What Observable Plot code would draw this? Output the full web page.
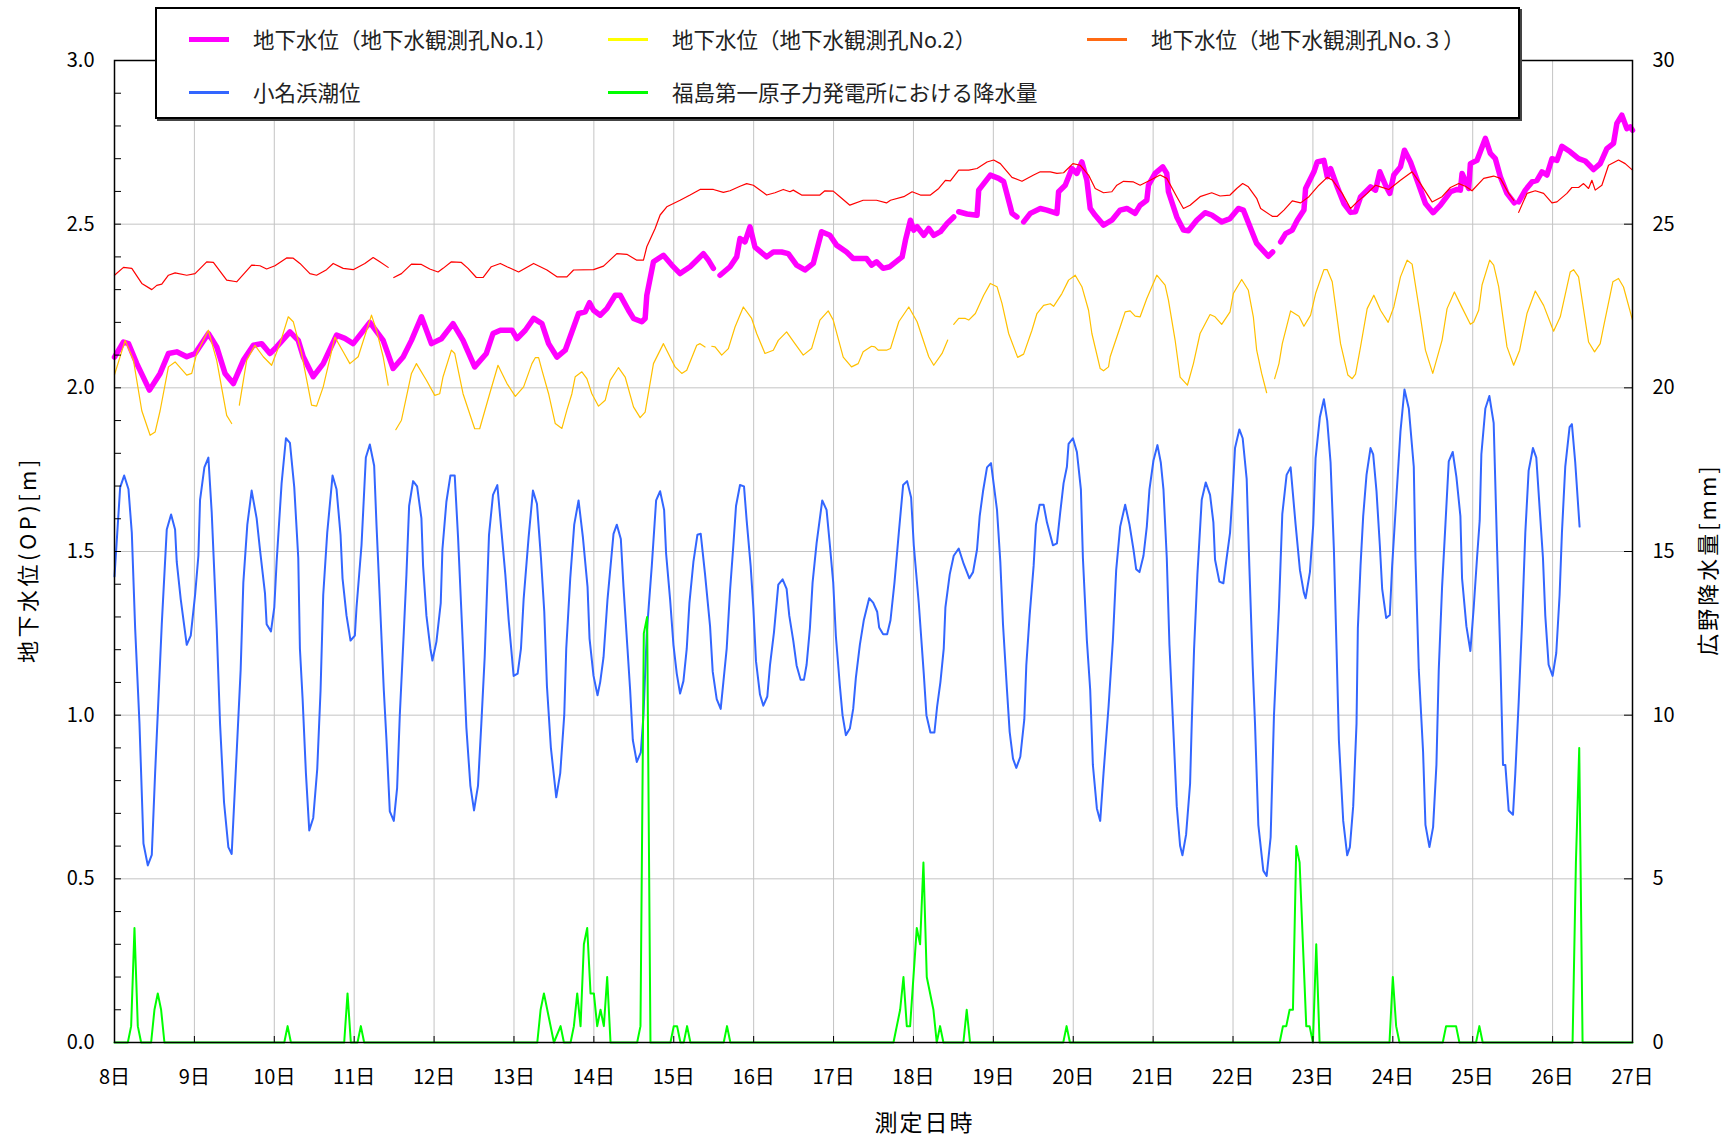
<!DOCTYPE html>
<html>
<head>
<meta charset="utf-8">
<script src="https://cdn.jsdelivr.net/npm/d3@7"></script>
<script src="https://cdn.jsdelivr.net/npm/@observablehq/plot@0.6"></script>
<style>
  body { margin: 0; background: #fff; font-family: "Noto Sans CJK JP", "Noto Sans", sans-serif; }
  #wrap { position: relative; width: 1733px; height: 1140px; overflow: hidden; }
  #legend { position: absolute; left: 155px; top: 7px; width: 1361px; height: 108px; border: 2px solid #000;
            background: #fff; box-shadow: 2px 2px 0 #444; box-sizing: content-box; }
  .item { position: absolute; height: 30px; }
  .sw { position: absolute; left: 0; width: 40px; }
  .lt { position: absolute; left: 64px; top: 0; line-height: 30px; font-size: 21.5px; color: #222; white-space: nowrap; }
</style>
</head>
<body>
<div id="wrap"></div>
<script>
// ---- data: hours since 8日 0:00 ----
const dayTicks = d3.range(0, 457, 24);
const dayLabels = dayTicks.map(h => `${8 + h / 24}日`);
const leftTicks = [0, 0.5, 1.0, 1.5, 2.0, 2.5, 3.0];
const rightTickLabels = [0, 5, 10, 15, 20, 25, 30];

const seriesNames = ["地下水位（地下水観測孔No.1）", "地下水位（地下水観測孔No.2）", "地下水位（地下水観測孔No.３）", "小名浜潮位", "福島第一原子力発電所における降水量"];
const lineColors = ["#ff00ff", "#ffc000", "#ff0000", "#3366ff", "#00ff00"];
const legendColors = ["#ff00ff", "#ffff00", "#ff6a13", "#3366ff", "#00ff00"];

// 地下水観測孔No.1 [hour, m]  (null = gap)
const well1 = [[0,2.094],[2.7,2.14],[4.2,2.135],[6.7,2.074],[10.5,1.993],[13.7,2.044],[16.2,2.105],[18.7,2.11],[21.7,2.095],[24.2,2.105],[28.2,2.166],[30.7,2.125],[33.2,2.044],[35.7,2.013],[38.7,2.084],[41.7,2.13],[44.2,2.135],[46.7,2.105],[48.7,2.125],[52.7,2.171],[55.2,2.145],[56.7,2.095],[59.7,2.034],[62.7,2.074],[66.7,2.161],[69.2,2.151],[71.7,2.135],[76.7,2.2],[80.7,2.145],[83.7,2.059],[86.7,2.094],[89.2,2.145],[92.2,2.217],[95.2,2.135],[98.2,2.15],[101.7,2.196],[104.7,2.145],[108.2,2.064],[111.7,2.105],[113.7,2.166],
[115.9,2.176],[119.4,2.176],[120.9,2.15],[123.4,2.176],[125.9,2.212],[128.4,2.196],[130.4,2.135],[132.9,2.094],[135.4,2.115],[139.4,2.227],[141.4,2.232],[142.7,2.26],[143.9,2.237],[145.9,2.222],[147.9,2.242],[150.4,2.283],[151.9,2.283],[154.4,2.237],[155.9,2.212],[158.4,2.202],[159.4,2.212],[159.9,2.283],[161.9,2.385],[164.9,2.405],[167.4,2.375],[169.9,2.349],[172.9,2.37],[174.9,2.39],[176.9,2.41],[178.4,2.39],[179.9,2.365],[181,null],[181.9,2.344],[184.9,2.37],[186.9,2.40],[187.9,2.456],[189.4,2.446],[190.9,2.492],[192.4,2.43],[195.9,2.40],[197.9,2.415],[200.4,2.415],[202.4,2.41],[204.9,2.375],[207.4,2.36],[209.9,2.38],[212.4,2.477],[214.9,2.466],[216.9,2.436],[219.9,2.415],[221.9,2.395],[225.9,2.395],[227.4,2.375],[228.9,2.385],[230.9,2.365],[232.9,2.37],
[236.6,2.40],[237.6,2.451],[239.1,2.512],[240.1,2.482],[241.1,2.492],[243.1,2.466],[244.6,2.487],[246.1,2.466],[248.1,2.477],[250.1,2.502],[252.1,2.522],[253,null],[253.6,2.538],[256.1,2.531],[259.1,2.527],[259.6,2.604],[263.1,2.65],[265.6,2.64],[267.1,2.63],[269.1,2.553],[269.6,2.533],[271.1,2.522],[272,null],[273.1,2.507],[275.1,2.533],[278.1,2.548],[280.1,2.543],[283.1,2.533],[283.6,2.599],[285.6,2.619],[287.6,2.67],[289.1,2.655],[290.6,2.69],[292.1,2.634],[293.1,2.548],[294.6,2.527],[297.1,2.497],[299.6,2.512],[302.1,2.543],[304.1,2.548],[306.6,2.533],[308.1,2.558],[310.1,2.573],[310.6,2.619],[312.6,2.655],[314.9,2.675],[316.1,2.655],[316.6,2.599],[319.1,2.522],[321.1,2.482],[322.6,2.48],[325.1,2.512],[327.6,2.535],[329.6,2.528],[332.6,2.507],[335.1,2.517],[337.6,2.548],[339.1,2.543],[341.1,2.492],[343.1,2.441],[344.1,2.43],[346.6,2.402],[347.9,2.415],[349,null],
[350.3,2.446],[351.8,2.471],[353.8,2.482],[355.3,2.512],[357.3,2.543],[357.8,2.609],[360.3,2.66],[361.3,2.69],[363.3,2.695],[364.3,2.645],[365.3,2.67],[367.3,2.614],[369.3,2.563],[371.3,2.536],[372.8,2.538],[374.3,2.583],[377.3,2.614],[378.8,2.604],[380.1,2.66],[381.8,2.619],[383.1,2.594],[384.3,2.65],[386.3,2.675],[387.5,2.726],[389.3,2.69],[391.3,2.634],[393.8,2.563],[396.1,2.535],[398.3,2.558],[401.3,2.599],[403.3,2.606],[404.3,2.604],[404.8,2.655],[406.8,2.609],[407.3,2.685],[409.3,2.695],[411.8,2.762],[413.3,2.716],[414.8,2.7],[416.3,2.645],[418.3,2.594],[420.5,2.565],[421.1,null],[421.8,2.568],[423.8,2.604],[425.8,2.629],[427.3,2.634],[428.8,2.66],[430.3,2.65],[431.8,2.7],[433.3,2.695],[434.8,2.738],[437.3,2.721],[439.8,2.7],[441.8,2.693],[444.3,2.667],[446.3,2.685],[448.3,2.731],[450.3,2.747],[451.3,2.808],[452.8,2.833],[454.3,2.792],[455.3,2.797],[456,2.787]];

// 地下水観測孔No.2 [hour, m]
const well2 = [[0,2.04],[3.2,2.145],[5.7,2.084],[8.2,1.93],[10.7,1.855],[12.2,1.865],[13.7,1.93],[16.2,2.064],[18.2,2.079],[21.7,2.039],[23.2,2.044],[24.7,2.105],[28.2,2.176],[30.7,2.084],[33.7,1.916],[35.2,1.891],[36.3,null],[37.5,1.947],[39.7,2.084],[42.2,2.13],[44.7,2.095],[47.2,2.069],[49.7,2.135],[52.2,2.217],[53.7,2.202],[56.2,2.105],[59.2,1.947],[60.7,1.944],[62.7,2.003],[66.2,2.155],[68.7,2.11],[70.7,2.074],[73.2,2.095],[77.2,2.222],[78.7,2.176],[80.7,2.095],[82.2,2.008],[83.3,null],[84.5,1.872],[86.2,1.901],[89.2,2.044],[90.7,2.074],[93.7,2.023],[96.2,1.977],[97.7,1.982],[98.7,2.034],[101.2,2.115],[102.2,2.105],[104.7,1.982],[108.2,1.875],[109.7,1.875],[112.7,1.982],[115.2,2.069],
[117.9,2.013],[120.4,1.974],[122.9,2.003],[125.4,2.074],[126.4,2.092],[127.4,2.092],[128.4,2.054],[130.4,1.982],[132.4,1.891],[134.4,1.876],[135.9,1.932],[137.4,1.982],[138.4,2.034],[140.4,2.049],[141.9,2.028],[143.4,1.982],[145.4,1.944],[147.4,1.962],[148.9,2.023],[151.4,2.062],[153.4,2.033],[155.9,1.942],[157.9,1.909],[159.4,1.926],[161.9,2.074],[164.9,2.135],[166.9,2.094],[168.4,2.064],[170.4,2.044],[171.9,2.054],[174.9,2.13],[175.9,2.135],[177.4,2.125],[178.4,null],[179.4,2.127],[180.4,2.125],[182.4,2.1],[184.4,2.12],[186.4,2.186],[188.9,2.247],[191.4,2.212],[192.9,2.166],[195.4,2.105],[197.9,2.115],[199.4,2.145],[201.9,2.171],[204.4,2.135],[206.9,2.1],[209.4,2.12],[211.9,2.207],[214.4,2.235],[215.9,2.207],[218.9,2.094],[221.4,2.064],[223.4,2.074],[224.9,2.11],[227.4,2.127],[228.4,2.125],[229.4,2.115],[231.9,2.115],
[233.1,2.12],[235.6,2.202],[238.6,2.247],[241.1,2.202],[242.6,2.156],[244.6,2.095],[246.1,2.069],[248.6,2.105],[250.3,2.146],[251.2,null],[252.1,2.194],[253.6,2.212],[255.6,2.212],[256.6,2.207],[258.6,2.227],[261.1,2.283],[263.1,2.319],[265.1,2.309],[266.6,2.258],[268.6,2.166],[271.3,2.093],[273.1,2.103],[275.6,2.176],[277.1,2.227],[279.1,2.252],[281.1,2.257],[282.1,2.249],[284.6,2.288],[286.6,2.329],[288.6,2.344],[290.6,2.309],[292.6,2.237],[293.6,2.166],[296.1,2.059],[297.1,2.052],[298.6,2.064],[299.1,2.095],[302.1,2.186],[303.6,2.232],[305.1,2.235],[306.6,2.219],[308.1,2.217],[310.1,2.273],[313.1,2.344],[315.6,2.314],[316.6,2.268],[318.6,2.146],[320.1,2.033],[322.3,2.008],[324.1,2.074],[326.1,2.166],[329.1,2.224],[330.6,2.217],[332.6,2.194],[335.1,2.232],[336.1,2.288],[338.6,2.331],[340.6,2.298],[342.1,2.217],[343.1,2.115],[344.6,2.044],[346.1,1.985],[347.2,null],
[348.5,2.028],[349.8,2.074],[350.8,2.135],[353.3,2.235],[355.8,2.219],[357.3,2.188],[359.3,2.222],[360.8,2.288],[363.3,2.361],[364.3,2.361],[365.8,2.324],[368.3,2.135],[370.5,2.039],[371.8,2.028],[372.8,2.042],[374.3,2.125],[376.3,2.242],[378.3,2.283],[380.3,2.237],[382.6,2.2],[384.3,2.247],[386.3,2.339],[388.3,2.39],[389.8,2.378],[392.3,2.217],[393.8,2.115],[396.0,2.044],[398.8,2.146],[400.3,2.242],[402.5,2.293],[404.8,2.245],[407.3,2.194],[408.3,2.201],[409.8,2.237],[410.8,2.314],[413.1,2.39],[414.3,2.375],[415.8,2.309],[418.3,2.125],[420.3,2.069],[422.1,2.115],[424.3,2.227],[426.8,2.296],[429.3,2.252],[432.3,2.173],[434.3,2.217],[437.3,2.354],[438.3,2.361],[439.8,2.339],[442.8,2.14],[444.6,2.11],[446.3,2.135],[447.3,2.186],[450.1,2.324],[451.8,2.334],[453.3,2.308],[456,2.207]];

// 地下水観測孔No.3 [hour, m]
const well3 = [[0,2.344],[2.7,2.368],[5.2,2.365],[8.2,2.319],[11.2,2.30],[12.7,2.313],[14.2,2.317],[16.2,2.344],[18.2,2.351],[21.7,2.344],[24.2,2.349],[27.7,2.385],[29.7,2.383],[33.7,2.329],[36.7,2.324],[41.2,2.375],[43.7,2.373],[45.7,2.363],[48.2,2.373],[51.7,2.397],[53.7,2.396],[55.7,2.38],[58.7,2.349],[60.7,2.344],[63.7,2.361],[65.7,2.38],[68.7,2.365],[71.7,2.361],[75.2,2.38],[77.7,2.398],[79.7,2.385],[82.2,2.368],[83.1,null],[83.9,2.337],[86.2,2.349],[89.2,2.378],[92.2,2.377],[94.7,2.363],[97.2,2.354],[98.7,2.365],[101.2,2.385],[104.2,2.383],[106.2,2.365],[108.7,2.337],[110.7,2.337],[113.2,2.37],
[115.9,2.38],[117.9,2.37],[121.4,2.354],[125.9,2.38],[129.9,2.36],[132.9,2.339],[135.9,2.339],[137.9,2.36],[143.9,2.361],[146.9,2.372],[150.9,2.41],[153.9,2.408],[156.9,2.39],[158.9,2.39],[159.9,2.431],[162.4,2.487],[163.9,2.528],[165.9,2.553],[169.9,2.573],[172.9,2.589],[175.9,2.606],[179.9,2.606],[182.9,2.597],[184.9,2.602],[187.9,2.616],[189.9,2.624],[191.9,2.619],[195.9,2.589],[198.4,2.596],[200.9,2.606],[202.9,2.599],[203.9,2.604],[206.4,2.589],[211.9,2.589],[213.4,2.602],[215.9,2.601],[217.9,2.584],[220.9,2.558],[224.9,2.573],[228.9,2.573],[231.9,2.565],
[233.1,2.573],[237.1,2.584],[239.6,2.599],[242.1,2.589],[245.1,2.589],[247.6,2.609],[249.6,2.634],[251.1,2.632],[253.6,2.665],[256.6,2.665],[259.1,2.67],[262.1,2.69],[264.1,2.696],[266.1,2.685],[269.6,2.643],[272.6,2.631],[276.1,2.65],[278.1,2.66],[281.1,2.66],[283.1,2.655],[285.1,2.657],[287.9,2.685],[290.1,2.68],[292.6,2.65],[294.6,2.609],[297.1,2.596],[299.6,2.599],[301.1,2.619],[303.1,2.631],[306.1,2.629],[308.1,2.619],[311.1,2.634],[314.1,2.65],[316.1,2.64],[319.1,2.584],[321.1,2.548],[323.1,2.558],[326.1,2.584],[329.6,2.596],[332.1,2.586],[335.1,2.589],[337.1,2.609],[338.9,2.624],[340.6,2.614],[343.1,2.579],
[344.3,2.548],[347.8,2.524],[349.3,2.524],[351.3,2.543],[353.8,2.571],[356.3,2.565],[358.8,2.584],[361.8,2.619],[364.3,2.643],[365.8,2.635],[368.8,2.594],[371.3,2.548],[373.3,2.568],[376.3,2.594],[378.8,2.619],[380.3,2.614],[382.8,2.606],[386.3,2.634],[389.8,2.66],[392.3,2.624],[395.8,2.568],[398.8,2.584],[401.3,2.612],[403.8,2.624],[405.8,2.616],[407.8,2.602],[411.3,2.64],[414.3,2.647],[416.3,2.64],[418.8,2.594],[420.3,2.573],[421.1,null],[421.8,2.536],[424.3,2.594],[426.8,2.602],[429.3,2.594],[431.8,2.565],[433.3,2.568],[436.3,2.594],[437.8,2.612],[439.8,2.612],[441.3,2.624],[442.8,2.609],[443.8,2.634],[444.8,2.604],[446.8,2.619],[448.8,2.68],[451.8,2.696],[453.8,2.685],[456,2.665]];

// 小名浜潮位 [hour, m]
const tide = [[0,1.424],[1.7,1.696],[2.9,1.732],[4.2,1.69],[5.2,1.557],[6.2,1.266],[7.5,0.975],[8.7,0.608],[10,0.541],[11.2,0.573],[12.2,0.823],[14.2,1.278],[15.7,1.567],[17,1.613],[18.2,1.567],[18.7,1.468],[19.9,1.354],[21.7,1.215],[22.9,1.243],[24.2,1.367],[25.2,1.487],[25.7,1.658],[27,1.757],[28.2,1.787],[29.2,1.62],[30.7,1.266],[31.7,0.975],[32.9,0.734],[34.2,0.597],[35.2,0.576],[36.7,0.886],[37.9,1.139],[38.7,1.405],[39.9,1.582],[41.2,1.686],[42.7,1.601],[43.7,1.506],[45.2,1.373],[45.7,1.278],[47,1.256],[48,1.329],[48.7,1.468],[50.2,1.709],[51.5,1.846],[52.7,1.832],[54,1.696],[55.2,1.481],[55.7,1.203],[56.5,1.051],[57.5,0.823],[58.5,0.648],[59.7,0.686],[60.9,0.835],[61.9,1.076],[62.7,1.367],[63.9,1.557],[65.5,1.732],[66.7,1.69],[67.9,1.551],[68.5,1.418],[69.7,1.304],[70.9,1.228],[72.2,1.243],[72.7,1.329],[74.2,1.519],[75.5,1.787],[76.7,1.827],[78,1.762],[78.7,1.582],[79.7,1.354],[80.9,1.076],[81.7,0.924],[82.7,0.706],[83.9,0.677],[84.9,0.778],[85.7,1.0],[86.9,1.253],[87.7,1.43],[88.5,1.639],[89.7,1.715],[90.9,1.699],[92.2,1.601],[92.7,1.456],[93.7,1.304],[94.9,1.203],[95.5,1.167],[96.7,1.224],[98,1.342],[98.5,1.506],[99.7,1.652],[100.9,1.732],[102.2,1.732],[103.2,1.544],[104.7,1.203],[105.7,0.962],[106.9,0.785],[108,0.709],[109.2,0.785],[110.2,0.975],[111.2,1.177],[112.5,1.551],[113.7,1.673],[115,1.703],
[117.4,1.43],[118.4,1.291],[119.9,1.12],[121.1,1.127],[122.1,1.203],[122.9,1.354],[124.4,1.544],[125.7,1.686],[126.9,1.646],[128.1,1.481],[129.1,1.316],[129.9,1.089],[131.1,0.899],[132.7,0.749],[133.9,0.823],[135.1,1.0],[135.7,1.203],[136.9,1.418],[138.1,1.582],[139.4,1.656],[140.7,1.544],[142.1,1.392],[142.7,1.234],[143.9,1.12],[145.1,1.061],[145.9,1.101],[146.9,1.177],[148.1,1.354],[149.9,1.554],[150.9,1.582],[152.1,1.538],[152.9,1.392],[154.1,1.203],[154.9,1.076],[155.7,0.924],[156.9,0.857],[158.1,0.886],[158.9,1.0],[159.9,1.253],[161.4,1.456],[162.7,1.656],[163.9,1.684],[165.1,1.627],[165.7,1.494],[166.9,1.354],[167.9,1.215],[168.9,1.127],[169.9,1.066],[170.9,1.104],[171.9,1.203],[172.7,1.342],[173.9,1.468],[175.1,1.551],[176.1,1.554],[177.4,1.43],[178.9,1.272],[179.7,1.133],[180.9,1.049],[182.1,1.019],[182.9,1.101],[183.9,1.203],[184.9,1.38],[185.9,1.519],[186.7,1.639],[187.9,1.703],[189.1,1.699],[189.9,1.595],[191.1,1.456],[191.9,1.329],[192.7,1.165],[193.9,1.063],[194.9,1.029],[196.1,1.057],[196.9,1.152],[198.1,1.253],[199.4,1.399],[200.7,1.415],[201.9,1.386],[202.7,1.304],[203.9,1.228],[204.9,1.152],[206.1,1.108],[207.1,1.108],[207.9,1.154],[208.9,1.266],[209.7,1.405],[210.9,1.525],[212.6,1.656],[213.9,1.627],[214.9,1.519],[215.9,1.405],[216.7,1.241],[217.9,1.089],[218.7,1.0],[219.7,0.939],[220.9,0.959],[221.9,1.019],[222.7,1.114],[223.9,1.215],[225.1,1.291],[226.7,1.357],[227.9,1.344],[229.1,1.316],[229.7,1.268],[230.9,1.247],[232.1,1.247],[233.1,1.29],
[234.3,1.405],[235.6,1.557],[236.9,1.703],[238.1,1.715],[239.3,1.665],[240.1,1.519],[241.6,1.342],[243.1,1.127],[243.9,1.0],[245.1,0.947],[246.3,0.947],[247.1,1.025],[248.1,1.101],[249.1,1.203],[249.6,1.329],[250.9,1.43],[252.1,1.487],[253.6,1.509],[255.1,1.462],[256.8,1.418],[257.9,1.437],[259.1,1.506],[259.9,1.608],[260.9,1.684],[262.1,1.757],[263.3,1.77],[265.1,1.627],[266.1,1.468],[266.9,1.278],[268.1,1.076],[268.9,0.949],[269.9,0.867],[270.9,0.839],[272.1,0.873],[273.3,0.987],[273.9,1.152],[274.9,1.304],[276.1,1.456],[276.8,1.582],[277.9,1.643],[279.1,1.643],[280.1,1.589],[281.9,1.519],[283.1,1.525],[284.1,1.62],[285.1,1.709],[286.1,1.759],[286.6,1.829],[287.9,1.846],[289.1,1.804],[290.3,1.69],[290.9,1.481],[292.1,1.228],[293.1,1.076],[293.9,0.848],[295.1,0.715],[296.1,0.677],[297.1,0.823],[298.6,1.025],[299.9,1.228],[300.9,1.443],[302.1,1.576],[303.6,1.643],[304.9,1.582],[306.1,1.506],[306.9,1.446],[307.9,1.437],[309.1,1.487],[310.1,1.576],[310.9,1.69],[312.1,1.778],[313.3,1.825],[314.3,1.772],[315.1,1.69],[316.1,1.481],[316.9,1.215],[318.1,0.949],[319.1,0.722],[320.1,0.601],[320.8,0.572],[321.9,0.635],[323.1,0.791],[323.6,0.975],[324.3,1.203],[325.3,1.43],[326.6,1.658],[327.8,1.711],[329.1,1.673],[330.1,1.589],[330.6,1.475],[331.9,1.408],[333.1,1.403],[334.1,1.481],[335.1,1.557],[335.9,1.684],[336.6,1.816],[337.9,1.873],[338.9,1.846],[340.1,1.722],[340.9,1.456],[341.9,1.152],[342.6,0.975],[343.6,0.665],
[345.1,0.525],[346.1,0.509],[347.3,0.627],[348.3,1.0],[349.8,1.329],[350.8,1.614],[352.1,1.734],[353.3,1.757],[354.8,1.582],[356.1,1.443],[357.3,1.373],[357.8,1.357],[359.1,1.437],[360.1,1.582],[360.8,1.785],[362.1,1.911],[363.3,1.965],[364.3,1.899],[365.3,1.772],[366.3,1.506],[367.1,1.203],[367.8,0.924],[369.1,0.677],[370.3,0.572],[371.1,0.597],[372.1,0.722],[373.1,0.975],[373.5,1.266],[374.3,1.456],[375.1,1.608],[376.1,1.734],[377.3,1.816],[378.1,1.797],[379.1,1.684],[380.1,1.519],[380.8,1.386],[382.0,1.297],[383.1,1.306],[383.8,1.456],[385.1,1.671],[386.3,1.867],[387.5,1.995],[388.8,1.937],[390.3,1.759],[390.8,1.481],[391.8,1.139],[393.1,0.886],[393.8,0.665],[395.0,0.597],[396.1,0.658],[397.1,0.848],[397.8,1.139],[398.8,1.392],[399.8,1.582],[400.8,1.775],[402.0,1.804],[403.1,1.728],[404.3,1.608],[404.8,1.418],[406.1,1.272],[407.3,1.196],[408.3,1.329],[409.3,1.481],[410.1,1.595],[410.6,1.797],[411.8,1.937],[413.0,1.975],[414.3,1.892],[415.3,1.519],[416.3,1.177],[417.1,0.848],[417.8,0.848],[418.8,0.709],[420.1,0.696],[420.8,0.823],[421.8,1.038],[422.8,1.278],[423.8,1.557],[424.8,1.747],[426.1,1.816],[427.1,1.787],[428.1,1.633],[429.1,1.481],[429.8,1.304],[430.8,1.154],[432.0,1.12],[433.1,1.19],[434.1,1.367],[434.8,1.557],[435.8,1.759],[437.1,1.88],[437.8,1.889],[438.8,1.772],[440.1,1.576]];

// 降水量 [hour, mm]
const rain = [[0,0],[4,0],[5,0.5],[6,3.5],[7,0.5],[8,0],[11,0],[12,1.0],[13,1.5],[14,1.0],[15,0],[51,0],[52,0.5],[53,0],[69,0],[70,1.5],[71,0],[73,0],[74,0.5],[75,0],
[127,0],[128,1.0],[129,1.5],[130,1.0],[132,0],[134,0.5],[135,0],[137,0],[138,0.5],[139,1.5],[140,0.5],[141,3.0],[142,3.5],[143,1.5],[144,1.5],[145,0.5],[146,1.0],[147,0.5],[148,2.0],[149,0],
[157,0],[158,0.5],[159,12.5],[160,13.0],[161,0],[167,0],[168,0.5],[169,0.5],[170,0],[171,0],[172,0.5],[173,0],[183,0],[184,0.5],[185,0],
[234,0],[236,1.0],[237,2.0],[238,0.5],[239,0.5],[241,3.5],[242,3.0],[243,5.5],[244,2.0],[246,1.0],[247,0],[248,0.5],[249,0],[255,0],[256,1.0],[257,0],[285,0],[286,0.5],[287,0],
[350,0],[351,0.5],[352,0.5],[353,1.0],[354,1.0],[355,6.0],[356,5.5],[358,0.5],[359,0.5],[360,0],[361,3.0],[362,0],
[383,0],[384,2.0],[385,0.5],[386,0],[399,0],[400,0.5],[403,0.5],[404,0],[409,0],[410,0.5],[411,0],[438,0],[439,5.5],[440,9.0],[441,0],[456,0]];

// ---- chart ----
const rainScale = 10; // 30 mm on the right axis ⇔ 3.0 m on the left axis
const X = d => d[0];
const Y = d => d[1];
const minorTicks = d3.range(0, 30.001, 1).map(v => v / 10);
const titleX = "測定日時";
const titleLeft = "地下水位(OP)[m]";
const titleRight = "広野降水量[mm]";

const chart = Plot.plot({
  width: 1733,
  height: 1140,
  marginLeft: 114,
  marginRight: 101,
  marginTop: 60,
  marginBottom: 98,
  style: { fontFamily: '"Noto Sans CJK JP", sans-serif', fontSize: "20px", color: "#000", background: "#fff", overflow: "visible" },
  x: { domain: [0, 456] },
  y: { domain: [0, 3] },
  marks: [
    Plot.gridX(dayTicks.slice(1, -1), { stroke: "#c4c4c4", strokeOpacity: 1, strokeWidth: 1 }),
    Plot.gridY(leftTicks.slice(1, -1), { stroke: "#c4c4c4", strokeOpacity: 1, strokeWidth: 1 }),
    // series
    Plot.line(well1, { x: X, y: Y, stroke: lineColors[0], strokeWidth: 5.5, strokeLinejoin: "round", strokeLinecap: "round" }),
    Plot.line(well2, { x: X, y: Y, stroke: lineColors[1], strokeWidth: 1.2 }),
    Plot.line(well3, { x: X, y: Y, stroke: lineColors[2], strokeWidth: 1.2 }),
    Plot.line(tide, { x: X, y: Y, stroke: lineColors[3], strokeWidth: 2 }),
    Plot.line(rain, { x: X, y: d => d[1] / rainScale, stroke: lineColors[4], strokeWidth: 2 }),
    Plot.frame({ stroke: "#000", strokeWidth: 1.5 }),
    // inward ticks
    Plot.axisY(minorTicks, { anchor: "right", frameAnchor: "left", tickSize: 6, tickFormat: () => "", label: null, stroke: "#000" }),
    Plot.axisY(leftTicks, { anchor: "left", frameAnchor: "right", tickSize: 8, tickFormat: () => "", label: null, stroke: "#000" }),
    Plot.axisX(dayTicks, { anchor: "top", frameAnchor: "bottom", tickSize: 7, tickFormat: () => "", label: null, stroke: "#000" }),
    // labels
    Plot.axisY(leftTicks, { anchor: "left", tickSize: 0, tickPadding: 20, tickFormat: d => d.toFixed(1), label: null, fontSize: 20 }),
    Plot.axisY(leftTicks, { anchor: "right", tickSize: 0, tickPadding: 20, tickFormat: (d, i) => String(rightTickLabels[i]), label: null, fontSize: 20 }),
    Plot.axisX(dayTicks, { anchor: "bottom", tickSize: 0, tickPadding: 27, tickFormat: (d, i) => dayLabels[i], label: null, fontSize: 20 }),
    // axis titles
    Plot.text([titleX], { frameAnchor: "bottom", textAnchor: "middle", dx: 51, dy: 88, fontSize: 23, fill: "#000" }),
    Plot.text([titleLeft], { frameAnchor: "left", textAnchor: "middle", rotate: -90, dx: -86, dy: 8, fontSize: 22, fill: "#000" }),
    Plot.text([titleRight], { frameAnchor: "right", textAnchor: "middle", rotate: -90, dx: 76, dy: 8, fontSize: 22, fill: "#000" })
  ]
});

// letter spacing for the titles and tick labels (the reference uses a wide gothic face)
chart.querySelectorAll("text").forEach(t => {
  const s = t.textContent;
  if (s === titleLeft) t.style.letterSpacing = "3.5px";
  else if (s === titleRight) t.style.letterSpacing = "3px";
  else if (s === titleX) t.style.letterSpacing = "2px";
});

const wrap = document.getElementById("wrap");
wrap.appendChild(chart);

// legend
const legend = document.createElement("div");
legend.id = "legend";
const legendPos = [
  { left: 32, top: 15, h: 5 }, { left: 451, top: 15, h: 3 }, { left: 930, top: 15, h: 3 },
  { left: 32, top: 68, h: 3 }, { left: 451, top: 68, h: 3 }
];
seriesNames.forEach((name, i) => {
  const p = legendPos[i];
  const it = document.createElement("div");
  it.className = "item";
  it.style.left = p.left + "px";
  it.style.top = p.top + "px";
  const sw = document.createElement("div");
  sw.className = "sw";
  sw.style.top = (15 - p.h / 2) + "px";
  sw.style.height = p.h + "px";
  sw.style.background = legendColors[i];
  const lt = document.createElement("div");
  lt.className = "lt";
  lt.textContent = name;
  it.appendChild(sw);
  it.appendChild(lt);
  legend.appendChild(it);
});
wrap.appendChild(legend);
</script>
</body>
</html>
